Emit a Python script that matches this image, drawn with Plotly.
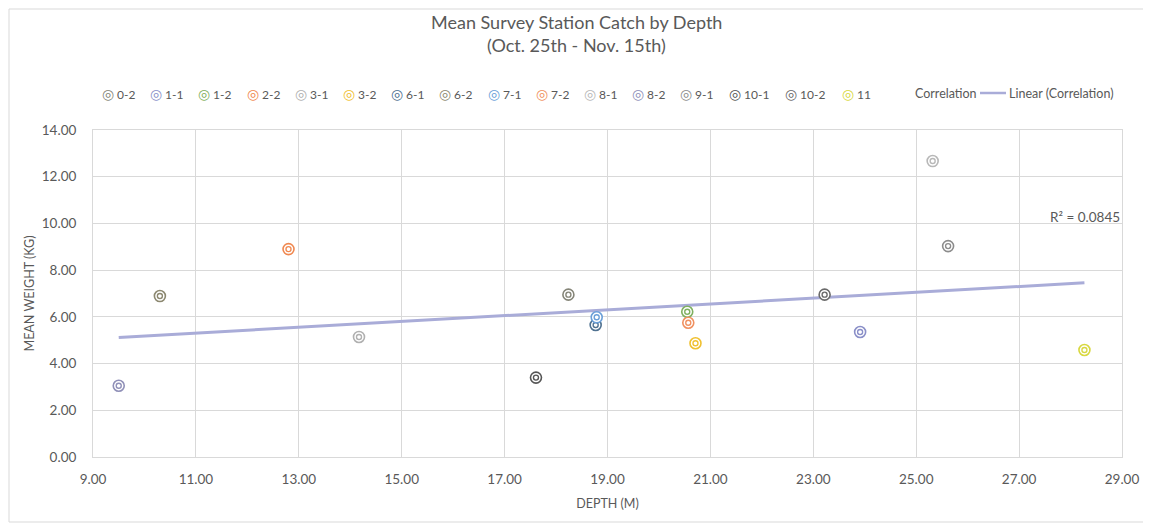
import numpy as np
import plotly.graph_objects as go

# ---- data ----
names = ["0-2", "1-1", "1-2", "2-2", "3-1", "3-2", "6-1", "6-2",
         "7-1", "7-2", "8-1", "8-2", "9-1", "10-1", "10-2", "11"]
depth = [18.24, 23.91, 20.55, 12.80, 14.17, 20.71, 18.77, 10.30,
         18.79, 20.57, 25.32, 9.50, 25.62, 17.61, 23.22, 28.27]
weight = [6.95, 5.35, 6.22, 8.90, 5.14, 4.87, 5.65, 6.89,
          5.98, 5.75, 12.67, 3.05, 9.03, 3.40, 6.95, 4.58]
colors = ["#858578", "#8a8fc8", "#7fb060", "#f08850", "#b0b0b0", "#f0c030",
          "#4f7190", "#8c8870", "#6a9fd8", "#f09060", "#b8b8b8", "#9090b8",
          "#8c8c8c", "#555555", "#6a6a6a", "#d8d840"]
x_ticks = [9, 11, 13, 15, 17, 19, 21, 23, 25, 27, 29]
y_ticks = [0, 2, 4, 6, 8, 10, 12, 14]
title_lines = ["Mean Survey Station Catch by Depth", "(Oct. 25th - Nov. 15th)"]
r2_label = "R² = 0.0845"

# ---- layout constants (page pixels) ----
W, H = 1151, 527
OFF = 8                      # page body margin offset
PL, PR, PT, PB = 93, 1122, 130, 457   # plot area edges on the page
PW, PH = PR - PL, PB - PT
GRID = "#d9d9d9"
TXT = "#595959"
FONT = "Lato, Open Sans, sans-serif"


def px_x(px):
    return (px - PL) / PW


def px_y(py):
    return (PB - py) / PH


fig = go.Figure()

# linear trendline of the whole "Correlation" series
slope, intercept = np.polyfit(depth, weight, 1)
tx = np.array([min(depth), max(depth)])
fig.add_trace(go.Scatter(x=tx, y=slope * tx + intercept, mode="lines",
                         line=dict(color="#a9acd8", width=3),
                         hoverinfo="skip", showlegend=False))

# points: outer ring + inner ring (Excel double-circle marker)
for n, xv, yv, c in zip(names, depth, weight, colors):
    fig.add_trace(go.Scatter(x=[xv], y=[yv], mode="markers", name=n,
                             marker=dict(symbol="circle", size=11, color="white",
                                         line=dict(color=c, width=1.6)),
                             showlegend=False))
    fig.add_trace(go.Scatter(x=[xv], y=[yv], mode="markers", name=n,
                             marker=dict(symbol="circle-open", size=5, color=c,
                                         line=dict(color=c, width=1.4)),
                             showlegend=False, hoverinfo="skip"))

annotations = []
shapes = []

# title
for i, line in enumerate(title_lines):
    annotations.append(dict(x=px_x(576), y=px_y(22 + 23 * i), xref="paper", yref="paper",
                            xanchor="center", yanchor="middle", showarrow=False,
                            text=line, font=dict(family=FONT, size=18, color=TXT)))

# manual legend (Excel-like compact layout)
cur = 100
for n, c in zip(names, colors):
    annotations.append(dict(
        x=px_x(cur), y=px_y(93), xref="paper", yref="paper",
        xanchor="left", yanchor="middle", showarrow=False,
        text=f"<span style='color:{c};font-size:14px'>◎</span> {n}",
        font=dict(family=FONT, size=12, color=TXT)))
    cur += 23.3 + 8.3 * len(n)

annotations.append(dict(x=px_x(913), y=px_y(93), xref="paper", yref="paper",
                        xanchor="left", yanchor="middle", showarrow=False,
                        text="Correlation", font=dict(family=FONT, size=12.5, color=TXT)))
shapes.append(dict(type="line", xref="paper", yref="paper",
                   x0=px_x(980), x1=px_x(1006), y0=px_y(93), y1=px_y(93),
                   line=dict(color="#a9acd8", width=2.5)))
annotations.append(dict(x=px_x(1007), y=px_y(93), xref="paper", yref="paper",
                        xanchor="left", yanchor="middle", showarrow=False,
                        text="Linear (Correlation)",
                        font=dict(family=FONT, size=12.5, color=TXT)))

# R² label
annotations.append(dict(x=px_x(1122), y=px_y(217), xref="paper", yref="paper",
                        xanchor="right", yanchor="middle", showarrow=False,
                        text=r2_label, font=dict(family=FONT, size=13.5, color=TXT)))

# chart border (bottom / right parts visible inside the figure)
shapes.append(dict(type="rect", xref="paper", yref="paper",
                   x0=px_x(9), x1=px_x(1147), y0=px_y(522), y1=px_y(9),
                   line=dict(color=GRID, width=1)))

fig_w, fig_h = W - OFF, H - OFF
fig.update_layout(
    width=fig_w, height=fig_h,
    margin=dict(l=PL - OFF, r=fig_w - (PR - OFF), t=PT - OFF, b=fig_h - (PB - OFF)),
    paper_bgcolor="white", plot_bgcolor="white",
    font=dict(family=FONT, size=12, color=TXT),
    showlegend=False,
    annotations=annotations,
    shapes=shapes,
    xaxis=dict(range=[9, 29], tickvals=x_ticks, tickformat=".2f",
               showgrid=True, gridcolor=GRID, gridwidth=1,
               showline=True, linecolor=GRID, mirror=True, zeroline=False,
               ticks="", ticklabelstandoff=10, tickfont=dict(size=13.5, color=TXT),
               title=dict(text="DEPTH (M)", font=dict(size=12.5, color=TXT), standoff=13)),
    yaxis=dict(range=[0, 14], tickvals=y_ticks, tickformat=".2f",
               showgrid=True, gridcolor=GRID, gridwidth=1,
               showline=True, linecolor=GRID, mirror=True, zeroline=False,
               ticks="", ticklabelstandoff=13, tickfont=dict(size=13.5, color=TXT),
               title=dict(text="MEAN WEIGHT (KG)", font=dict(size=12.5, color=TXT), standoff=4)),
)

fig.write_html("out.html")
